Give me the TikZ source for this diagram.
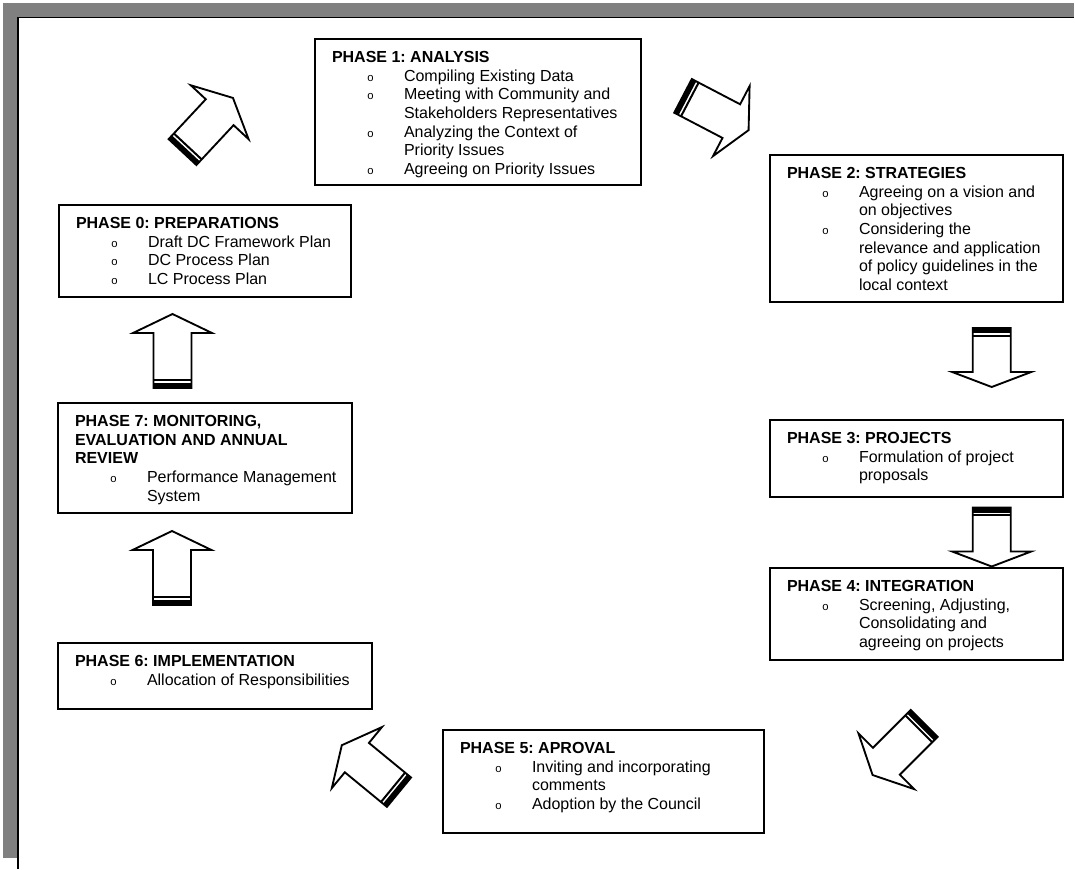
\documentclass[tikz,border=0pt]{standalone}
\usepackage{fontspec}
\setmainfont{Liberation Sans}
\newfontfamily\bulletfont{Liberation Mono}
\frenchspacing
\definecolor{framegray}{RGB}{128,128,128}
\newcommand{\phbul}{{\bulletfont\fontsize{8.5}{8.5}\selectfont o}}
\newcommand{\phhead}[1]{\textbf{#1}}
\newcommand{\phitem}[1]{\hspace*{26.25pt}\makebox[27.75pt][l]{\phbul}#1}
\newcommand{\phcont}[1]{\hspace*{54pt}#1}
\tikzset{
  pbox/.style={draw=black, line width=1.5pt, fill=white, inner sep=0pt, outer sep=0pt},
  ptext/.style={anchor=base west, inner sep=0pt, outer sep=0pt, align=left},
  arrowline/.style={draw=black, fill=white, line width=1.4pt},
}
% name, left, top, right, bottom, content
\newcommand{\phase}[6]{%
  \node[pbox, minimum width={(#4-#2)*0.75pt}, minimum height={(#5-#3)*0.75pt}] (#1) at ({(#2+#4)/2},{(#3+#5)/2}) {};
  \node[ptext] (#1t) at ([shift={(17,23.5)}]#1.north west) {\frenchspacing\begin{tabular}[t]{@{}l@{}}#6\end{tabular}};
}
% name, cx, cy, angle, length, head length
\newcommand{\blockarrow}[6]{%
  \begin{scope}[shift={(#2,#3)}, rotate=#4]
    \coordinate (#1) at (0,0);
    \draw[arrowline] ({-#5/2},-19) -- ({#5/2-#6},-19) -- ({#5/2-#6},-39.5) -- ({#5/2},0)
      -- ({#5/2-#6},39.5) -- ({#5/2-#6},19) -- ({-#5/2},19) -- cycle;
    \fill[black] ({-#5/2},-19) rectangle ({-#5/2+5},19);
    \draw[black, line width=1.5pt] ({-#5/2+7.7},-19) -- ({-#5/2+7.7},19);
  \end{scope}
}
\begin{document}
\begin{tikzpicture}[x=0.75pt, y=-0.75pt, font=\fontsize{12}{14}\selectfont]
  \useasboundingbox[fill=white] (0,0) rectangle (1075,869);
  % frame
  \fill[framegray] (3,3) rectangle (1074,17);
  \fill[framegray] (3,3) rectangle (17,858);
  \draw[black, line width=1pt] (18,869) -- (18,17.6) -- (1074,17.6);

  % phase boxes
  \phase{p1}{315}{39}{641}{185}{%
    \phhead{PHASE 1: ANALYSIS}\\
    \phitem{Compiling Existing Data}\\
    \phitem{Meeting with Community and}\\
    \phcont{Stakeholders Representatives}\\
    \phitem{Analyzing the Context of}\\
    \phcont{Priority Issues}\\
    \phitem{Agreeing on Priority Issues}}
  \phase{p2}{770}{155}{1063}{302}{%
    \phhead{PHASE 2: STRATEGIES}\\
    \phitem{Agreeing on a vision and}\\
    \phcont{on objectives}\\
    \phitem{Considering the}\\
    \phcont{relevance and application}\\
    \phcont{of policy guidelines in the}\\
    \phcont{local context}}
  \phase{p0}{59}{205}{351}{297}{%
    \phhead{PHASE 0: PREPARATIONS}\\
    \phitem{Draft DC Framework Plan}\\
    \phitem{DC Process Plan}\\
    \phitem{LC Process Plan}}
  \phase{p7}{58}{403}{352}{513}{%
    \phhead{PHASE 7: MONITORING,}\\
    \phhead{EVALUATION AND ANNUAL}\\
    \phhead{REVIEW}\\
    \phitem{Performance Management}\\
    \phcont{System}}
  \phase{p3}{770}{420}{1063}{497}{%
    \phhead{PHASE 3: PROJECTS}\\
    \phitem{Formulation of project}\\
    \phcont{proposals}}
  \phase{p4}{770}{568}{1063}{660}{%
    \phhead{PHASE 4: INTEGRATION}\\
    \phitem{Screening, Adjusting,}\\
    \phcont{Consolidating and}\\
    \phcont{agreeing on projects}}
  \phase{p6}{58}{643}{372}{709}{%
    \phhead{PHASE 6: IMPLEMENTATION}\\
    \phitem{Allocation of Responsibilities}}
  \phase{p5}{443}{730}{764}{833}{%
    \phhead{PHASE 5: APROVAL}\\
    \phitem{Inviting and incorporating}\\
    \phcont{comments}\\
    \phitem{Adoption by the Council}}

  % block arrows
  \blockarrow{a01}{207.75}{125}{47}{74}{19.5}
  \blockarrow{a12}{715.8}{113}{-27.6}{74}{19.5}
  \blockarrow{a23}{991.7}{357.5}{-90}{59}{15}
  \blockarrow{a34}{991.7}{537}{-90}{59}{15}
  \blockarrow{a45}{898.4}{749.2}{-135}{73}{19.5}
  \blockarrow{a56}{370.4}{768.7}{140.6}{74}{19.5}
  \blockarrow{a67}{172}{568}{90}{74}{19}
  \blockarrow{a70}{172.5}{351}{90}{74}{19}
\end{tikzpicture}
\end{document}
